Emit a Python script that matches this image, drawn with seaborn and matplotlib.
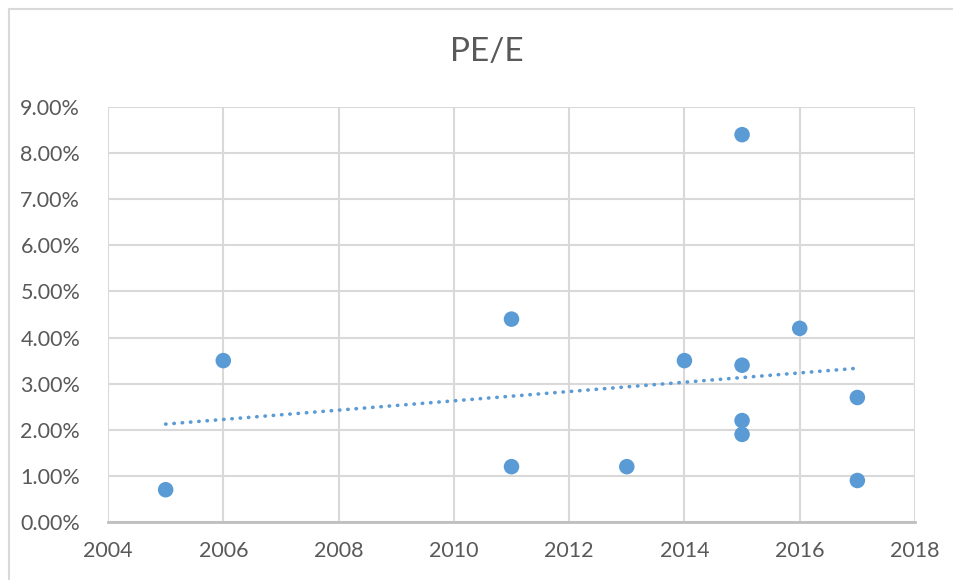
import seaborn as sns
import matplotlib.pyplot as plt
import pandas as pd
from matplotlib.patches import Rectangle
from matplotlib.ticker import FuncFormatter

# values
years = [2005, 2006, 2011, 2011, 2013, 2014, 2015, 2015, 2015, 2015, 2016, 2017, 2017]
pe_e = [0.7, 3.5, 4.4, 1.2, 1.2, 3.5, 8.4, 3.4, 2.2, 1.9, 4.2, 2.7, 0.9]

blue = '#5B9BD5'
grey_txt = '#595959'

data = pd.DataFrame({'year': years, 'pe_e': pe_e})

sns.set_style("white")
plt.rcParams['font.family'] = ['Lato', 'DejaVu Sans']

fig = plt.figure(figsize=(9.54, 5.8), dpi=100)
ax = fig.add_axes([108/954, 1 - 522/580, (915 - 108)/954, (522 - 107)/580])

sns.regplot(data=data, x='year', y='pe_e', ax=ax, scatter=False, ci=None, truncate=True,
            line_kws=dict(color=blue, lw=2.6, linestyle=(0, (0.1, 2.2)), dash_capstyle='round'))
sns.scatterplot(data=data, x='year', y='pe_e', ax=ax, s=125, color=blue, edgecolor='none', zorder=3)

ax.set_xlim(2004, 2018)
ax.set_ylim(0, 9)
ax.set_xticks(range(2004, 2019, 2))
ax.set_yticks(range(0, 10))
ax.yaxis.set_major_formatter(FuncFormatter(lambda v, p: f'{v:.2f}%'))
ax.grid(True, color='#d9d9d9', lw=1.5)
ax.set_axisbelow(True)
for s in ['left', 'right', 'top']:
    ax.spines[s].set_visible(False)
ax.spines['bottom'].set_color('#bfbfbf')
ax.spines['bottom'].set_linewidth(2)
ax.tick_params(length=0, labelsize=15.5, labelcolor=grey_txt)
ax.tick_params(axis='x', pad=14)
ax.tick_params(axis='y', pad=20)
ax.set_xlabel('')
ax.set_ylabel('')

fig.text(487/954, 1 - 52/580, 'PE/E', ha='center', va='center', fontsize=24, color=grey_txt)

# outer chart border
fig.patches.append(Rectangle((9/954, -0.05), 1.2, 1.05 - 9/580, transform=fig.transFigure,
                             fill=False, edgecolor='#d9d9d9', lw=1.5))

fig.savefig('out.png', dpi=100)
